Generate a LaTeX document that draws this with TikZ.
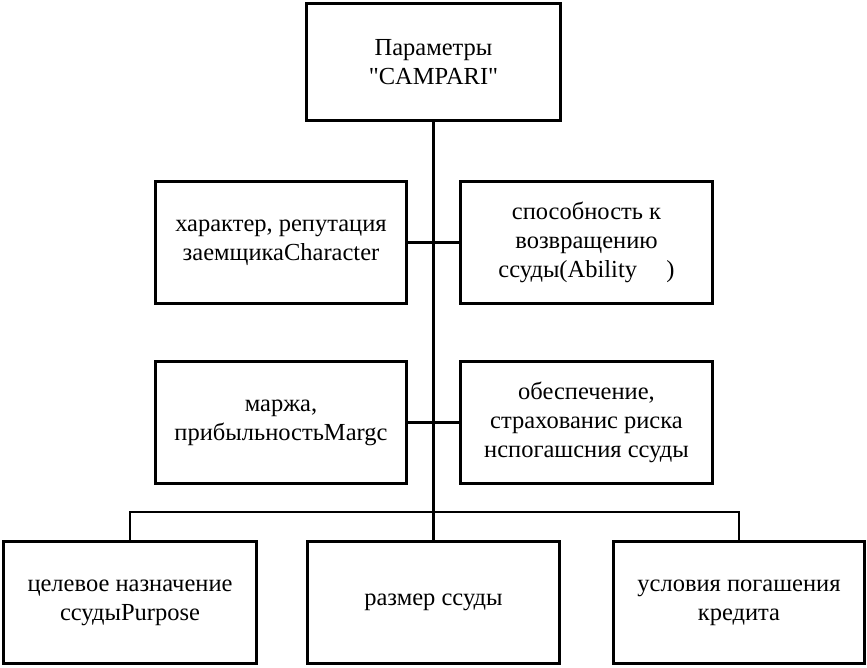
\documentclass[tikz,border=0pt]{standalone}
\usepackage{fontspec}
\setmainfont{Liberation Serif}[Ligatures=TeXOff]
\begin{document}
\begin{tikzpicture}[x=1pt,y=-1pt,
  box/.style={draw,line width=2.8pt,inner sep=0pt,align=center,
    font=\fontsize{24.5}{29}\selectfont},
  wire/.style={line width=2.8pt}]
\useasboundingbox (0,0) rectangle (867,667);
\node[box,minimum width=254pt,minimum height=117pt] (top) at (433.5,62) {Параметры\\"CAMPARI"};
\node[box,minimum width=251pt,minimum height=122pt] (l2) at (281,242.5) {характер, репутация\\заемщикаCharacter};
\node[box,minimum width=252pt,minimum height=122pt] (r2) at (586.5,242.5) {способность к\\возвращению\\ссуды(Ability\hspace{1.2em})};
\node[box,minimum width=251pt,minimum height=122pt] (l3) at (281,422.5) {маржа,\\прибыльностьMargc};
\node[box,minimum width=252pt,minimum height=122pt] (r3) at (586.5,422.5) {обеспечение,\\страхованис риска\\нспогашсния ссуды};
\node[box,minimum width=253pt,minimum height=122pt] (b1) at (130,602.5) {целевое назначение\\ссудыPurpose};
\node[box,minimum width=252pt,minimum height=122pt] (b2) at (433.5,602.5) {размер ссуды};
\node[box,minimum width=251pt,minimum height=122pt] (b3) at (739,602.5) {условия погашения\\кредита};
\coordinate (bl) at (b1.north |- 0,512);
\coordinate (br) at (b3.north |- 0,512);
\draw[wire] (top.south) -- (b2.north);
\draw[wire] (l2.east) -- (r2.west);
\draw[wire] (l3.east) -- (r3.west);
\draw[wire] (b1.north) -- (bl) -- (br) -- (b3.north);
\end{tikzpicture}
\end{document}
